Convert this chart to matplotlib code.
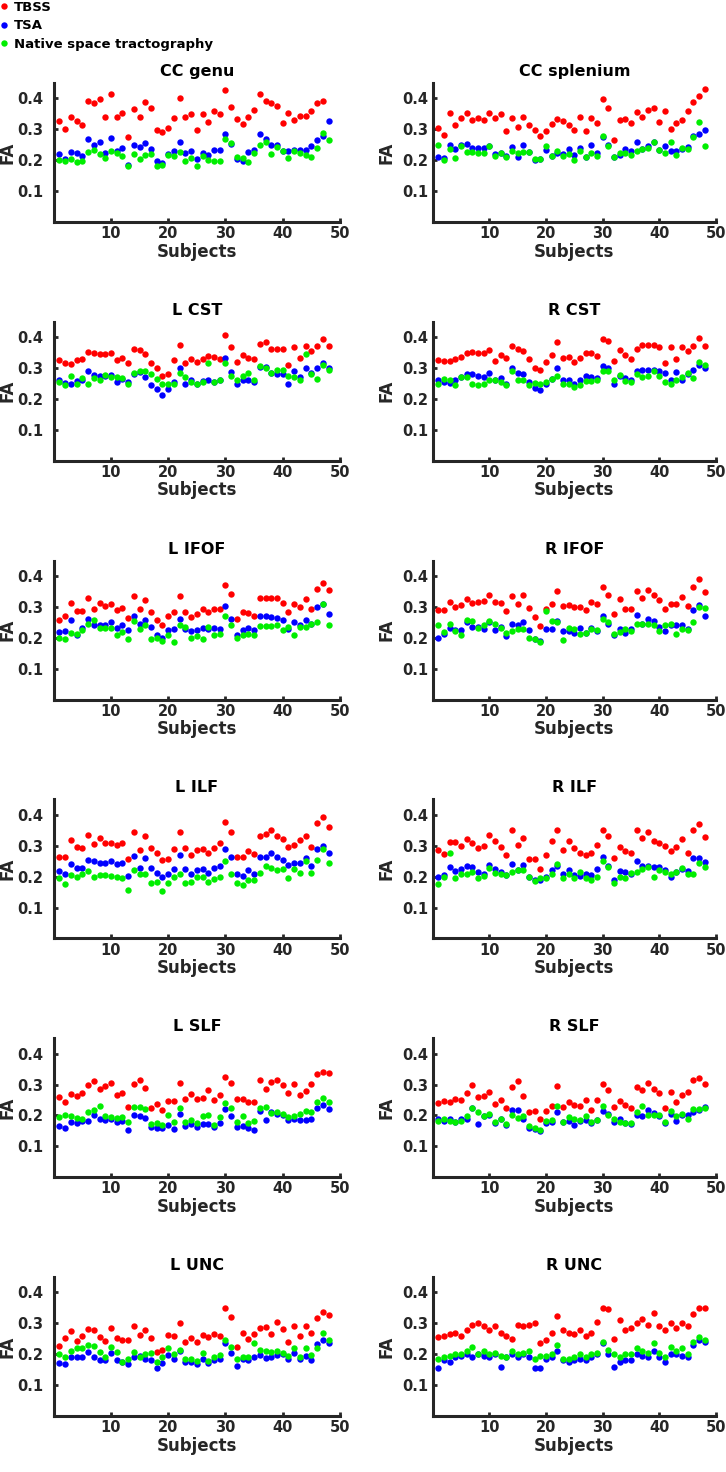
import numpy as np
import matplotlib
matplotlib.use("Agg")
import matplotlib.pyplot as plt

plt.rcParams['font.family'] = ['DejaVu Sans']
plt.rcParams['font.weight'] = 'bold'
plt.rcParams['axes.titleweight'] = 'bold'
plt.rcParams['axes.labelweight'] = 'bold'

subjects = list(range(1, 49))
methods = ["TBSS", "TSA", "Native space tractography"]
colors = ["#ff0000", "#0000ff", "#00ee00"]
tracts = ["CC genu", "CC splenium", "L CST", "R CST", "L IFOF", "R IFOF",
          "L ILF", "R ILF", "L SLF", "R SLF", "L UNC", "R UNC"]
xticks = [10, 20, 30, 40, 50]
yticks = [0.1, 0.2, 0.3, 0.4]

nan = float('nan')

# ---- CC genu
tbss_cc_genu = [0.328, 0.300, 0.341, 0.326, 0.314, 0.392, 0.385, 0.397, 0.340, 0.414, 0.341, 0.354,
                0.275, 0.367, 0.339, 0.390, 0.370, 0.298, 0.292, 0.305, 0.337, 0.403, 0.340, 0.350,
                0.297, 0.349, 0.323, 0.360, 0.351, 0.427, 0.373, 0.333, 0.318, 0.339, 0.364, 0.416,
                0.392, 0.385, 0.375, 0.322, 0.352, 0.330, 0.342, 0.342, 0.359, 0.384, 0.392, nan]
tsa_cc_genu = [0.219, 0.205, 0.228, 0.225, 0.214, 0.268, 0.249, 0.258, 0.224, 0.273, 0.230, 0.239,
               0.185, 0.248, 0.244, 0.255, 0.236, 0.197, 0.190, 0.219, 0.230, 0.259, 0.222, 0.230,
               0.205, 0.225, 0.216, 0.232, 0.232, 0.286, 0.254, 0.205, 0.199, 0.227, 0.234, 0.286,
               0.268, 0.249, 0.248, 0.230, 0.230, 0.232, 0.232, 0.233, 0.246, 0.265, 0.278, 0.327]
nat_cc_genu = [0.201, 0.197, 0.203, 0.195, 0.197, 0.227, 0.232, 0.220, 0.208, 0.229, 0.223, 0.215,
               0.180, 0.219, 0.203, 0.217, 0.219, 0.180, 0.185, 0.217, 0.214, 0.228, 0.197, 0.208,
               0.181, 0.214, 0.200, 0.196, 0.196, 0.268, 0.257, 0.212, 0.208, 0.194, 0.223, 0.250,
               0.259, 0.219, 0.242, 0.229, 0.208, 0.230, 0.222, 0.216, 0.210, 0.241, 0.287, 0.266]

# ---- CC splenium
tbss_cc_spl = [0.303, 0.282, 0.352, 0.313, 0.338, 0.354, 0.331, 0.338, 0.330, 0.352, 0.336, 0.349,
               0.296, 0.338, 0.308, 0.340, 0.314, 0.297, 0.279, 0.294, 0.316, 0.335, 0.327, 0.313,
               0.299, 0.341, 0.293, 0.337, 0.320, 0.397, 0.369, 0.266, 0.329, 0.333, 0.322, 0.357,
               0.341, 0.363, 0.369, 0.324, 0.360, 0.302, 0.319, 0.330, 0.360, 0.387, 0.408, 0.432]
tsa_cc_spl = [0.211, 0.207, 0.250, 0.236, 0.248, 0.254, 0.241, 0.238, 0.241, 0.246, 0.220, 0.225,
              0.215, 0.244, 0.212, 0.248, 0.228, 0.200, 0.205, 0.232, 0.215, 0.225, 0.220, 0.236,
              0.218, 0.240, 0.210, 0.248, 0.225, 0.276, 0.250, 0.210, 0.218, 0.235, 0.230, 0.258,
              0.235, 0.245, 0.260, 0.232, 0.245, 0.230, 0.230, 0.235, 0.242, 0.278, 0.285, 0.297]
nat_cc_spl = [0.248, 0.200, 0.236, 0.206, 0.245, 0.227, 0.228, 0.225, 0.222, 0.245, 0.215, 0.225,
              0.210, 0.229, 0.222, 0.228, 0.228, 0.205, 0.205, 0.246, 0.215, 0.230, 0.215, 0.220,
              0.200, 0.230, 0.210, 0.222, 0.215, 0.280, 0.245, 0.210, 0.222, 0.222, 0.218, 0.230,
              0.235, 0.240, 0.258, 0.232, 0.222, 0.258, 0.218, 0.240, 0.235, 0.275, 0.325, 0.246]

# ---- L CST
tbss_l_cst = [0.327, 0.316, 0.313, 0.327, 0.331, 0.352, 0.348, 0.345, 0.345, 0.349, 0.327, 0.334,
              0.315, 0.361, 0.359, 0.347, 0.316, 0.300, 0.275, 0.282, 0.326, 0.376, 0.315, 0.328,
              0.320, 0.328, 0.338, 0.336, 0.331, 0.407, 0.370, 0.320, 0.342, 0.332, 0.329, 0.377,
              0.384, 0.362, 0.363, 0.363, 0.310, 0.368, 0.334, 0.371, 0.356, 0.373, 0.393, 0.372]
tsa_l_cst = [0.262, 0.253, 0.250, 0.258, 0.262, 0.291, 0.277, 0.274, 0.275, 0.278, 0.255, 0.265,
             0.255, 0.280, 0.288, 0.270, 0.245, 0.232, 0.212, 0.232, 0.255, 0.300, 0.250, 0.260,
             0.250, 0.258, 0.262, 0.255, 0.260, 0.332, 0.288, 0.250, 0.262, 0.262, 0.255, 0.305,
             0.303, 0.285, 0.280, 0.280, 0.250, 0.292, 0.270, 0.300, 0.285, 0.300, 0.315, 0.300]
nat_l_cst = [0.255, 0.245, 0.275, 0.250, 0.268, 0.248, 0.268, 0.260, 0.278, 0.270, 0.270, 0.268,
             0.250, 0.285, 0.290, 0.290, 0.280, 0.265, 0.248, 0.250, 0.250, 0.283, 0.270, 0.255,
             0.250, 0.255, 0.315, 0.255, 0.262, 0.315, 0.275, 0.263, 0.275, 0.285, 0.262, 0.308,
             0.302, 0.285, 0.295, 0.295, 0.275, 0.272, 0.263, 0.345, 0.280, 0.264, 0.310, 0.293]

# ---- R CST
tbss_r_cst = [0.327, 0.323, 0.323, 0.331, 0.337, 0.348, 0.352, 0.348, 0.350, 0.360, 0.323, 0.343,
              0.332, 0.372, 0.361, 0.356, 0.329, 0.300, 0.293, 0.321, 0.343, 0.386, 0.333, 0.336,
              0.320, 0.333, 0.348, 0.348, 0.340, 0.394, 0.388, 0.323, 0.358, 0.343, 0.329, 0.363,
              0.375, 0.375, 0.374, 0.367, 0.316, 0.370, 0.331, 0.369, 0.354, 0.371, 0.396, 0.372]
tsa_r_cst = [0.260, 0.255, 0.252, 0.262, 0.270, 0.282, 0.282, 0.275, 0.270, 0.285, 0.260, 0.268,
             0.250, 0.300, 0.285, 0.282, 0.255, 0.237, 0.228, 0.250, 0.265, 0.300, 0.262, 0.262,
             0.250, 0.262, 0.275, 0.270, 0.268, 0.308, 0.300, 0.250, 0.275, 0.268, 0.262, 0.290,
             0.295, 0.295, 0.295, 0.290, 0.285, 0.260, 0.288, 0.262, 0.280, 0.294, 0.310, 0.302]
nat_r_cst = [0.250, 0.265, 0.260, 0.245, 0.270, 0.270, 0.250, 0.245, 0.250, 0.260, 0.260, 0.255,
             0.245, 0.290, 0.260, 0.260, 0.245, 0.252, 0.248, 0.255, 0.265, 0.275, 0.248, 0.248,
             0.240, 0.245, 0.258, 0.258, 0.260, 0.292, 0.290, 0.262, 0.278, 0.258, 0.255, 0.280,
             0.272, 0.275, 0.290, 0.275, 0.255, 0.248, 0.262, 0.270, 0.285, 0.268, 0.320, 0.310]

# ---- L IFOF
tbss_l_ifof = [0.258, 0.271, 0.314, 0.286, 0.286, 0.330, 0.294, 0.312, 0.302, 0.309, 0.291, 0.298,
               0.264, 0.336, 0.292, 0.322, 0.284, 0.258, 0.242, 0.271, 0.284, 0.337, 0.284, 0.266,
               0.276, 0.292, 0.282, 0.294, 0.294, 0.372, 0.342, 0.260, 0.282, 0.279, 0.271, 0.330,
               0.330, 0.330, 0.330, 0.312, 0.284, 0.309, 0.301, 0.325, 0.294, 0.357, 0.379, 0.356]
tsa_l_ifof = [0.218, 0.222, 0.258, 0.210, 0.232, 0.262, 0.240, 0.243, 0.243, 0.250, 0.233, 0.240,
              0.225, 0.272, 0.245, 0.258, 0.235, 0.208, 0.200, 0.226, 0.227, 0.260, 0.228, 0.222,
              0.225, 0.232, 0.230, 0.233, 0.228, 0.302, 0.260, 0.210, 0.225, 0.232, 0.225, 0.270,
              0.270, 0.267, 0.263, 0.257, 0.228, 0.250, 0.240, 0.258, 0.245, 0.300, 0.310, 0.276]
nat_l_ifof = [0.200, 0.195, 0.215, 0.213, 0.225, 0.245, 0.258, 0.232, 0.232, 0.232, 0.210, 0.220,
              0.197, 0.255, 0.230, 0.240, 0.195, 0.198, 0.190, 0.210, 0.187, 0.240, 0.235, 0.198,
              0.206, 0.197, 0.235, 0.210, 0.213, 0.272, 0.242, 0.198, 0.210, 0.212, 0.208, 0.237,
              0.237, 0.237, 0.240, 0.225, 0.235, 0.210, 0.236, 0.235, 0.245, 0.252, 0.310, 0.242]

# ---- R IFOF
tbss_r_ifof = [0.289, 0.289, 0.317, 0.301, 0.305, 0.327, 0.314, 0.317, 0.319, 0.338, 0.316, 0.314,
               0.287, 0.336, 0.311, 0.338, 0.296, 0.269, 0.238, 0.292, 0.309, 0.350, 0.303, 0.305,
               0.300, 0.301, 0.290, 0.317, 0.309, 0.363, 0.339, 0.276, 0.325, 0.292, 0.292, 0.352,
               0.328, 0.355, 0.338, 0.323, 0.294, 0.311, 0.311, 0.332, 0.303, 0.366, 0.390, 0.349]
tsa_r_ifof = [0.200, 0.212, 0.233, 0.225, 0.225, 0.250, 0.235, 0.235, 0.228, 0.250, 0.225, 0.235,
              0.205, 0.245, 0.240, 0.250, 0.225, 0.195, 0.190, 0.228, 0.228, 0.255, 0.222, 0.222,
              0.215, 0.232, 0.215, 0.232, 0.222, 0.270, 0.245, 0.210, 0.230, 0.215, 0.230, 0.275,
              0.245, 0.260, 0.255, 0.235, 0.222, 0.240, 0.240, 0.240, 0.228, 0.290, 0.305, 0.270]
nat_r_ifof = [0.240, 0.220, 0.245, 0.222, 0.210, 0.258, 0.255, 0.232, 0.240, 0.255, 0.245, 0.232,
              0.215, 0.222, 0.230, 0.228, 0.198, 0.196, 0.186, 0.288, 0.255, 0.250, 0.193, 0.232,
              0.230, 0.212, 0.215, 0.228, 0.225, 0.262, 0.252, 0.212, 0.218, 0.230, 0.222, 0.245,
              0.245, 0.245, 0.242, 0.222, 0.240, 0.245, 0.212, 0.228, 0.225, 0.252, 0.300, 0.296]

# ---- L ILF
tbss_l_ilf = [0.265, 0.262, 0.319, 0.297, 0.292, 0.335, 0.305, 0.326, 0.308, 0.310, 0.303, 0.310,
              0.256, 0.343, 0.285, 0.330, 0.294, 0.276, 0.254, 0.256, 0.289, 0.343, 0.292, 0.270,
              0.286, 0.289, 0.275, 0.294, 0.308, 0.377, 0.343, 0.262, 0.262, 0.283, 0.272, 0.330,
              0.339, 0.351, 0.330, 0.321, 0.297, 0.302, 0.319, 0.332, 0.296, 0.372, 0.394, 0.362]
tsa_l_ilf = [0.218, 0.210, 0.240, 0.228, 0.228, 0.255, 0.250, 0.245, 0.243, 0.250, 0.242, 0.243,
             0.203, 0.268, 0.227, 0.260, 0.228, 0.213, 0.198, 0.210, 0.225, 0.270, 0.225, 0.210,
             0.220, 0.226, 0.212, 0.228, 0.235, 0.290, 0.265, 0.208, 0.202, 0.222, 0.210, 0.262,
             0.265, 0.275, 0.265, 0.255, 0.237, 0.245, 0.245, 0.260, 0.235, 0.290, 0.300, 0.275]
nat_l_ilf = [0.195, 0.175, 0.205, 0.198, 0.208, 0.218, 0.198, 0.204, 0.204, 0.202, 0.200, 0.195,
             0.158, 0.220, 0.208, 0.210, 0.180, 0.182, 0.153, 0.180, 0.200, 0.210, 0.180, 0.182,
             0.200, 0.200, 0.183, 0.192, 0.198, 0.250, 0.210, 0.180, 0.172, 0.190, 0.190, 0.212,
             0.235, 0.228, 0.222, 0.226, 0.195, 0.225, 0.212, 0.252, 0.213, 0.255, 0.290, 0.243]

# ---- R ILF
tbss_r_ilf = [0.285, 0.272, 0.312, 0.312, 0.298, 0.321, 0.309, 0.294, 0.300, 0.335, 0.316, 0.296,
              0.269, 0.350, 0.303, 0.324, 0.256, 0.256, 0.226, 0.270, 0.314, 0.350, 0.285, 0.314,
              0.292, 0.275, 0.269, 0.278, 0.303, 0.350, 0.332, 0.260, 0.297, 0.283, 0.278, 0.351,
              0.326, 0.345, 0.314, 0.310, 0.298, 0.283, 0.296, 0.323, 0.278, 0.350, 0.370, 0.329]
tsa_r_ilf = [0.200, 0.205, 0.232, 0.218, 0.225, 0.233, 0.230, 0.215, 0.210, 0.238, 0.225, 0.215,
             0.205, 0.240, 0.220, 0.238, 0.200, 0.190, 0.188, 0.200, 0.220, 0.235, 0.210, 0.222,
             0.205, 0.202, 0.210, 0.205, 0.225, 0.265, 0.235, 0.190, 0.218, 0.215, 0.208, 0.250,
             0.235, 0.235, 0.232, 0.232, 0.222, 0.198, 0.215, 0.225, 0.218, 0.260, 0.260, 0.248]
nat_r_ilf = [0.177, 0.198, 0.275, 0.195, 0.210, 0.210, 0.215, 0.195, 0.203, 0.228, 0.213, 0.210,
             0.205, 0.215, 0.220, 0.220, 0.200, 0.187, 0.195, 0.196, 0.210, 0.240, 0.195, 0.210,
             0.195, 0.215, 0.195, 0.190, 0.200, 0.250, 0.232, 0.180, 0.200, 0.195, 0.213, 0.216,
             0.225, 0.232, 0.198, 0.220, 0.215, 0.210, 0.215, 0.228, 0.210, 0.208, 0.245, 0.232]

# ---- L SLF
tbss_l_slf = [0.260, 0.242, 0.268, 0.263, 0.274, 0.298, 0.310, 0.287, 0.296, 0.304, 0.266, 0.274,
              0.228, 0.303, 0.315, 0.288, 0.225, 0.238, 0.218, 0.247, 0.247, 0.306, 0.254, 0.268,
              0.252, 0.256, 0.283, 0.249, 0.265, 0.326, 0.306, 0.252, 0.252, 0.244, 0.244, 0.315,
              0.287, 0.308, 0.314, 0.299, 0.274, 0.301, 0.265, 0.278, 0.301, 0.334, 0.342, 0.337]
tsa_l_slf = [0.167, 0.158, 0.178, 0.175, 0.183, 0.182, 0.200, 0.190, 0.185, 0.190, 0.178, 0.182,
             0.152, 0.200, 0.198, 0.192, 0.162, 0.158, 0.158, 0.170, 0.155, 0.205, 0.165, 0.172,
             0.163, 0.172, 0.172, 0.162, 0.175, 0.222, 0.198, 0.163, 0.165, 0.160, 0.152, 0.213,
             0.185, 0.210, 0.205, 0.200, 0.185, 0.190, 0.185, 0.185, 0.190, 0.225, 0.235, 0.222]
nat_l_slf = [0.195, 0.200, 0.197, 0.193, 0.188, 0.210, 0.218, 0.232, 0.198, 0.195, 0.193, 0.195,
             0.178, 0.228, 0.228, 0.222, 0.172, 0.175, 0.168, 0.200, 0.178, 0.225, 0.178, 0.185,
             0.175, 0.198, 0.200, 0.170, 0.195, 0.240, 0.225, 0.178, 0.198, 0.175, 0.182, 0.225,
             0.228, 0.207, 0.210, 0.205, 0.195, 0.197, 0.205, 0.215, 0.210, 0.245, 0.258, 0.245]

# ---- R SLF
tbss_r_slf = [0.241, 0.247, 0.245, 0.252, 0.249, 0.274, 0.300, 0.259, 0.262, 0.276, 0.236, 0.250,
              0.225, 0.292, 0.310, 0.263, 0.212, 0.215, 0.187, 0.215, 0.231, 0.296, 0.228, 0.244,
              0.233, 0.231, 0.250, 0.219, 0.249, 0.303, 0.283, 0.228, 0.246, 0.233, 0.224, 0.292,
              0.283, 0.306, 0.287, 0.271, 0.225, 0.276, 0.244, 0.265, 0.276, 0.314, 0.320, 0.303]
tsa_r_slf = [0.190, 0.183, 0.190, 0.178, 0.190, 0.190, 0.225, 0.173, 0.197, 0.200, 0.175, 0.190,
             0.170, 0.218, 0.218, 0.190, 0.160, 0.155, 0.148, 0.175, 0.180, 0.212, 0.178, 0.182,
             0.168, 0.182, 0.185, 0.175, 0.185, 0.213, 0.205, 0.180, 0.188, 0.175, 0.172, 0.200,
             0.198, 0.218, 0.208, 0.198, 0.175, 0.205, 0.182, 0.200, 0.202, 0.212, 0.218, 0.228]
nat_r_slf = [0.183, 0.190, 0.183, 0.180, 0.183, 0.198, 0.225, 0.210, 0.198, 0.205, 0.180, 0.188,
             0.172, 0.200, 0.192, 0.198, 0.165, 0.160, 0.152, 0.182, 0.185, 0.232, 0.178, 0.195,
             0.188, 0.185, 0.198, 0.178, 0.185, 0.230, 0.202, 0.188, 0.180, 0.175, 0.175, 0.210,
             0.232, 0.200, 0.200, 0.200, 0.178, 0.213, 0.197, 0.205, 0.190, 0.220, 0.222, 0.225]

# ---- L UNC
tbss_l_unc = [0.227, 0.252, 0.276, 0.243, 0.260, 0.281, 0.279, 0.257, 0.243, 0.284, 0.254, 0.246,
              0.246, 0.292, 0.263, 0.279, 0.252, 0.206, 0.214, 0.263, 0.260, 0.300, 0.239, 0.254,
              0.239, 0.261, 0.255, 0.266, 0.260, 0.349, 0.320, 0.222, 0.268, 0.250, 0.266, 0.286,
              0.288, 0.266, 0.303, 0.282, 0.241, 0.290, 0.260, 0.292, 0.268, 0.317, 0.338, 0.328]
tsa_l_unc = [0.172, 0.168, 0.190, 0.190, 0.190, 0.207, 0.190, 0.180, 0.180, 0.205, 0.180, 0.175,
             0.168, 0.190, 0.195, 0.185, 0.182, 0.155, 0.172, 0.197, 0.185, 0.210, 0.175, 0.175,
             0.168, 0.186, 0.172, 0.180, 0.184, 0.235, 0.203, 0.162, 0.184, 0.180, 0.190, 0.197,
             0.187, 0.190, 0.198, 0.200, 0.185, 0.205, 0.185, 0.195, 0.182, 0.232, 0.245, 0.235]
nat_l_unc = [0.200, 0.190, 0.210, 0.220, 0.220, 0.230, 0.228, 0.208, 0.190, 0.222, 0.208, 0.175,
             0.185, 0.208, 0.190, 0.200, 0.205, 0.175, 0.190, 0.220, 0.200, 0.215, 0.185, 0.185,
             0.178, 0.205, 0.178, 0.190, 0.197, 0.245, 0.222, 0.185, 0.190, 0.190, 0.235, 0.215,
             0.210, 0.208, 0.210, 0.205, 0.195, 0.220, 0.190, 0.220, 0.197, 0.220, 0.268, 0.245]

# ---- R UNC
tbss_r_unc = [0.255, 0.260, 0.265, 0.270, 0.260, 0.280, 0.295, 0.300, 0.290, 0.280, 0.290, 0.270,
              0.260, 0.250, 0.295, 0.290, 0.295, 0.300, 0.235, 0.245, 0.270, 0.325, 0.280, 0.270,
              0.265, 0.280, 0.260, 0.270, 0.305, 0.350, 0.345, 0.250, 0.310, 0.280, 0.285, 0.300,
              0.315, 0.295, 0.335, 0.290, 0.280, 0.300, 0.285, 0.300, 0.290, 0.330, 0.350, 0.350]
tsa_r_unc = [0.155, 0.180, 0.175, 0.190, 0.195, 0.200, 0.190, 0.200, 0.195, 0.190, 0.200, 0.160,
             0.190, 0.200, 0.190, 0.200, 0.190, 0.155, 0.155, 0.185, 0.190, 0.210, 0.180, 0.175,
             0.180, 0.185, 0.180, 0.190, 0.200, 0.235, 0.200, 0.160, 0.175, 0.180, 0.180, 0.200,
             0.195, 0.190, 0.210, 0.190, 0.175, 0.200, 0.200, 0.195, 0.190, 0.230, 0.245, 0.240]
nat_r_unc = [0.185, 0.190, 0.195, 0.200, 0.200, 0.210, 0.225, 0.200, 0.210, 0.200, 0.205, 0.195,
             0.190, 0.210, 0.200, 0.205, 0.210, 0.185, 0.195, 0.195, 0.200, 0.230, 0.185, 0.185,
             0.190, 0.200, 0.190, 0.200, 0.205, 0.240, 0.215, 0.200, 0.190, 0.200, 0.200, 0.220,
             0.210, 0.205, 0.235, 0.205, 0.190, 0.225, 0.210, 0.220, 0.200, 0.240, 0.255, 0.245]

data = {
    "CC genu": (tbss_cc_genu, tsa_cc_genu, nat_cc_genu),
    "CC splenium": (tbss_cc_spl, tsa_cc_spl, nat_cc_spl),
    "L CST": (tbss_l_cst, tsa_l_cst, nat_l_cst),
    "R CST": (tbss_r_cst, tsa_r_cst, nat_r_cst),
    "L IFOF": (tbss_l_ifof, tsa_l_ifof, nat_l_ifof),
    "R IFOF": (tbss_r_ifof, tsa_r_ifof, nat_r_ifof),
    "L ILF": (tbss_l_ilf, tsa_l_ilf, nat_l_ilf),
    "R ILF": (tbss_r_ilf, tsa_r_ilf, nat_r_ilf),
    "L SLF": (tbss_l_slf, tsa_l_slf, nat_l_slf),
    "R SLF": (tbss_r_slf, tsa_r_slf, nat_r_slf),
    "L UNC": (tbss_l_unc, tsa_l_unc, nat_l_unc),
    "R UNC": (tbss_r_unc, tsa_r_unc, nat_r_unc),
}

W, H = 726, 1472
fig = plt.figure(figsize=(W / 100, H / 100), dpi=100)
fig.patch.set_facecolor('white')

axc = '#262626'
col_x = [53.7, 432.6]
col_w = [286.3, 283.5]
ax_h = 139.0
row_top0 = 83.0
row_step = 238.8
fa_right = [16.0, 396.0]

handles = None
for i, name in enumerate(tracts):
    r, c = divmod(i, 2)
    top = row_top0 + r * row_step
    ax = fig.add_axes([col_x[c] / W, 1 - (top + ax_h) / H, col_w[c] / W, ax_h / H])
    hs = []
    for vals, col, lab in zip(data[name], colors, methods):
        h, = ax.plot(subjects, vals, linestyle='none', marker='o', markersize=4.6,
                     markerfacecolor=col, markeredgecolor='none', label=lab)
        hs.append(h)
    if handles is None:
        handles = hs
    ax.set_xlim(0, 50)
    ax.set_ylim(0, 0.45)
    ax.set_xticks(xticks)
    ax.set_yticks(yticks)
    for s in ['top', 'right']:
        ax.spines[s].set_visible(False)
    for s in ['left', 'bottom']:
        ax.spines[s].set_linewidth(2.2)
        ax.spines[s].set_color(axc)
    ax.tick_params(direction='in', length=3, width=2, colors=axc, labelsize=10.5)
    ax.tick_params(axis='x', pad=3)
    ax.tick_params(axis='y', pad=(7.5 if c == 0 else 3))
    ax.set_title(name, fontsize=11.5, pad=5, color='black')
    ax.set_xlabel('Subjects', fontsize=12, labelpad=1, color=axc)
    ax.set_ylabel('FA', fontsize=12, color=axc)
    ax.yaxis.set_label_coords((fa_right[c] - col_x[c]) / col_w[c], 0.5)

fig.legend(handles, methods, loc='upper left', bbox_to_anchor=(0.0, 1.0 - 1.0 / H),
           frameon=False, handlelength=0.6, handletextpad=0.45, borderaxespad=0.0,
           borderpad=0.0, labelspacing=0.4, prop={'weight': 'bold', 'size': 9.5},
           labelcolor='black')

fig.savefig('out.png', dpi=100, facecolor='white')
